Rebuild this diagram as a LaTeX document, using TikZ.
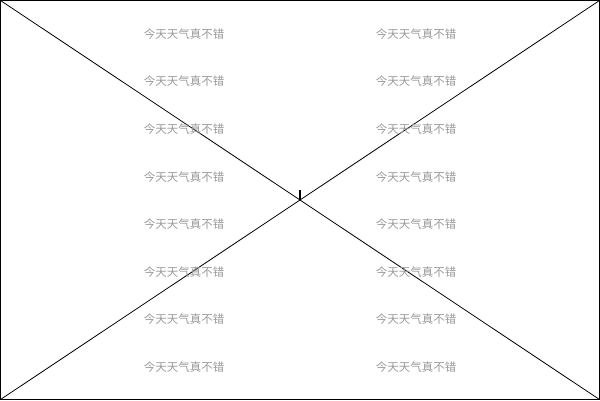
\documentclass[tikz,border=0pt]{standalone}
\usepackage{fontspec}
\newfontfamily\cjk{Noto Sans CJK SC}
\begin{document}
\begin{tikzpicture}[x=1pt,y=-1pt,
  wm/.style={text=black!40, font=\cjk\fontsize{11.5}{12}\selectfont, inner sep=0pt},
  frame/.style={draw=black, line width=0.8pt}]
\useasboundingbox (0,0) rectangle (600,400);
\coordinate (tl) at (0.5,0.5);
\coordinate (tr) at (599.5,0.5);
\coordinate (bl) at (0.5,399.5);
\coordinate (br) at (599.5,399.5);
\coordinate (c) at (300,200);
\coordinate (tick) at (300,190);
\draw[frame] (tl) rectangle (br);
\draw[frame] (tl) -- (br);
\draw[frame] (tr) -- (bl);
\draw[line width=1.2pt] (c) -- (tick);
\foreach \i in {0,...,7} {
  \node[wm] (l\i) at (184, 34+47.57*\i) {今天天气真不错};
  \node[wm] (r\i) at (416, 34+47.57*\i) {今天天气真不错};
}
\end{tikzpicture}
\end{document}
